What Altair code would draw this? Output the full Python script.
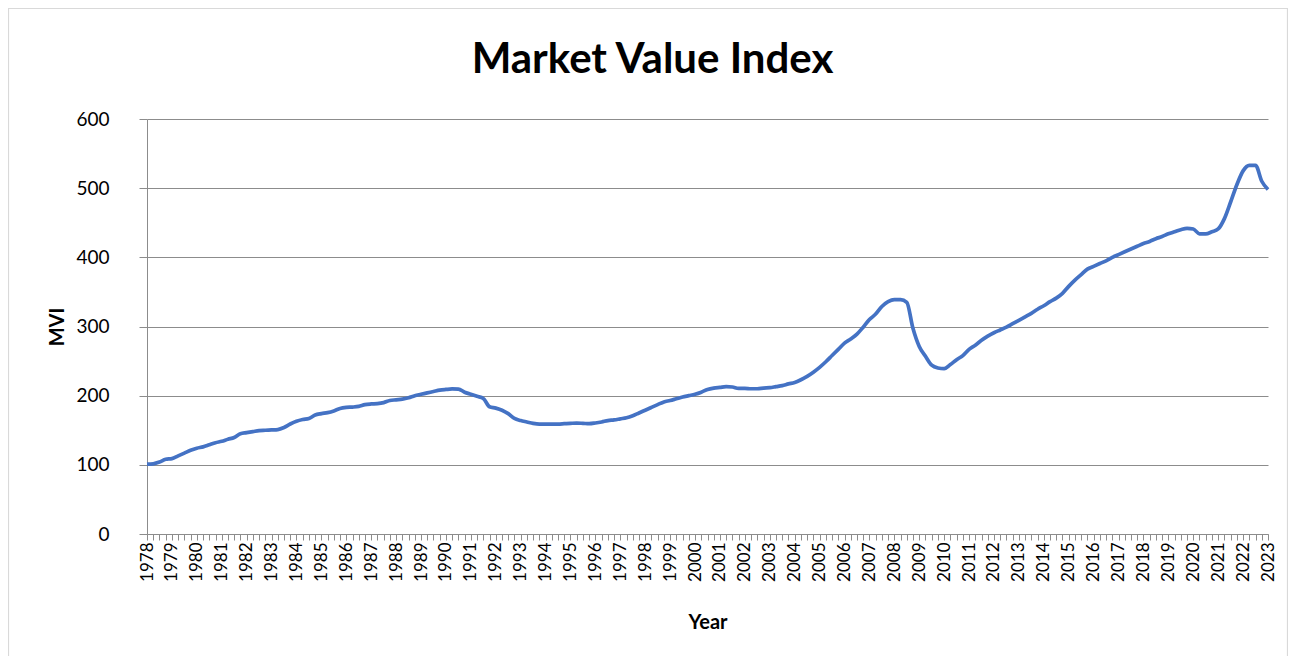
import altair as alt
import pandas as pd

# Quarterly Market Value Index, 1978 Q1 .. 2023 Q1
start_year = 1978
mvi = [
    101, 101.5, 104, 108,      # 1978
    109, 113, 117, 121,        # 1979
    124, 126, 129, 132,        # 1980
    134, 137, 139.5, 145,      # 1981
    146.5, 148, 149.5, 150,    # 1982
    150.5, 151, 154, 159,      # 1983
    163, 165.5, 167, 172,      # 1984
    174, 175.5, 178, 181.5,    # 1985
    183, 183.5, 184.5, 187,    # 1986
    188, 188.5, 190, 193,      # 1987
    194, 195, 197, 200,        # 1988
    202, 204, 206, 208,        # 1989
    209, 209.7, 209.5, 205,    # 1990
    202, 199, 196, 184,        # 1991
    182, 179, 174, 167,        # 1992
    164, 162, 160, 159,        # 1993
    159, 159, 159, 159.5,      # 1994
    160, 160.4, 160, 159.5,    # 1995
    160.5, 162, 164, 165,      # 1996
    166.5, 168, 171, 175,      # 1997
    179, 183, 187, 191,        # 1998
    193, 195.5, 198, 200,      # 1999
    202, 205, 209, 211,        # 2000
    212, 213, 212.5, 210.5,    # 2001
    210.5, 210, 210, 211,      # 2002
    211.5, 213, 214.5, 217,    # 2003
    219, 223, 228, 234,        # 2004
    241, 249, 258, 267,        # 2005
    276, 282, 289, 299,        # 2006
    310, 318, 329, 336,        # 2007
    339, 339, 335, 297,        # 2008
    271, 257, 244, 240,        # 2009
    239, 245, 252, 258,        # 2010
    267, 273, 280, 286,        # 2011
    291, 295, 299, 304,        # 2012
    309, 314, 319, 325,        # 2013
    330, 336, 341, 348,        # 2014
    358, 367, 375, 383,        # 2015
    387, 391, 395, 400,        # 2016
    404, 408, 412, 416,        # 2017
    420, 423, 427, 430,        # 2018
    434, 437, 440, 442,        # 2019
    441, 434, 434, 437,        # 2020
    441, 456, 480, 505,        # 2021
    525, 533, 533, 510,        # 2022
    498,                       # 2023
]
y_ticks = [0, 100, 200, 300, 400, 500, 600]

t = [start_year + i / 4 for i in range(len(mvi))]
df = pd.DataFrame({"t": t, "MVI": mvi})

FONT = "Lato"
GRAY = "#8c8c8c"

line = alt.Chart(df).mark_line(
    color="#4472C4", strokeWidth=3.7, interpolate="monotone"
).encode(
    x=alt.X(
        "t:Q",
        scale=alt.Scale(domain=[t[0], t[-1]], nice=False, zero=False),
        axis=alt.Axis(
            title="Year",
            values=t,
            labelExpr="datum.value % 1 == 0 ? format(datum.value, 'd') : ''",
            labelAngle=-90,
            labelOverlap=False,
            labelFlush=False,
            labelPadding=2,
            labelFontSize=17,
            labelFont=FONT,
            labelColor="#000000",
            tickSize=6,
            tickColor=GRAY,
            domainColor=GRAY,
            grid=False,
            titleFont=FONT,
            titleFontSize=20,
            titleFontWeight="bold",
            titleColor="#000000",
            titlePadding=31,
        ),
    ),
    y=alt.Y(
        "MVI:Q",
        scale=alt.Scale(domain=[0, 600], nice=False),
        axis=alt.Axis(
            title="MVI",
            values=y_ticks,
            labelFontSize=19,
            labelFont=FONT,
            labelColor="#000000",
            labelPadding=30,
            tickSize=8,
            tickColor=GRAY,
            domainColor=GRAY,
            gridColor=GRAY,
            gridWidth=1,
            titleFont=FONT,
            titleFontSize=20,
            titleFontWeight="bold",
            titleColor="#000000",
            titlePadding=8,
        ),
    ),
)

border = alt.Chart(pd.DataFrame({"a": [0]})).mark_rect(
    fill=None, stroke="#d9d9d9", strokeWidth=1.2, clip=False
).encode(
    x=alt.value(-138.5), x2=alt.value(1140.5),
    y=alt.value(-110.5), y2=alt.value(600),
)

chart = alt.layer(border, line).properties(
    width=1121,
    height=415,
    autosize=alt.AutoSizeParams(type="none"),
    padding={"left": 139, "top": 111, "right": 20, "bottom": 122},
    title=alt.TitleParams(
        "Market Value Index",
        font=FONT,
        fontSize=42,
        fontWeight="bold",
        color="#000000",
        anchor="middle",
        dx=-55,
        offset=-74,
    ),
).configure_view(stroke=None)

chart.save("out.html", embed_options={"renderer": "svg", "actions": False})
